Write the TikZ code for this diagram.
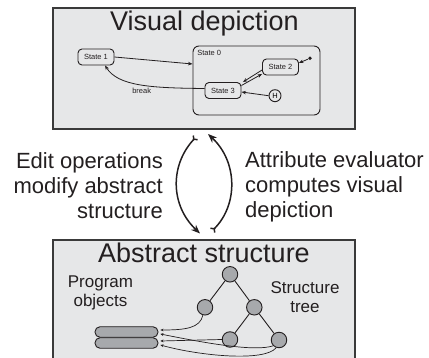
\documentclass[tikz,border=0pt]{standalone}
\usepackage{fontspec}
\setmainfont{Liberation Sans}
\usetikzlibrary{arrows.meta}

\definecolor{panel}{HTML}{E6E7E8}
\definecolor{frame}{HTML}{3A3A3A}
\definecolor{ball}{HTML}{A7A9AC}
\definecolor{ink}{HTML}{231F20}

\tikzset{
  panelbox/.style={draw=frame, fill=panel, line width=2.2pt, minimum width=302, minimum height=121, inner sep=0},
  heading/.style={font=\fontsize{27}{32}\selectfont, text=ink, inner sep=0},
  sidetext/.style={font=\fontsize{22}{25}\selectfont, text=ink, inner sep=0},
  labeltext/.style={font=\fontsize{17}{19}\selectfont, text=ink, inner sep=0, align=center},
  smalltext/.style={font=\fontsize{7.5}{9}\selectfont, text=ink, inner sep=0},
  statebox/.style={draw=ink, line width=0.9pt, rounded corners=4pt, minimum width=36, minimum height=16,
                   font=\fontsize{7.5}{9}\selectfont, text=ink, inner sep=0},
  container/.style={draw=ink, line width=0.9pt, rounded corners=6pt, minimum width=127, minimum height=69, inner sep=0},
  histnode/.style={draw=ink, line width=0.9pt, circle, minimum size=12, inner sep=0, font=\fontsize{7.5}{9}\selectfont},
  treenode/.style={draw=ink, fill=ball, line width=0.9pt, circle, minimum size=15.5, inner sep=0},
  capsule/.style={draw=ink, fill=ball, line width=0.9pt, rounded corners=5pt, minimum width=63, minimum height=10.5, inner sep=0},
  arr/.style={draw=ink, line width=0.8pt, -{Stealth[length=4.5pt,width=3.5pt]}},
  sarr/.style={draw=ink, line width=0.7pt, -{Stealth[length=3pt,width=2.8pt]}},
  bigarc/.style={draw=ink, line width=1.5pt, {Straight Barb[reversed,length=2.5pt,width=6pt]}-{Stealth[length=9pt,width=7pt]}},
  edge/.style={draw=ink, line width=0.9pt}
}

\begin{document}
\begin{tikzpicture}[x=1pt, y=-1pt]
\useasboundingbox (0,0) rectangle (429,358);
\clip (0,0) rectangle (429,358);

% ---------- upper panel: visual depiction ----------
\node[panelbox] (vis) at (204,68.5) {};
\node[heading, anchor=base] (vistitle) at (204.5,31) {Visual depiction};

\node[container] (s0) at (256.5,80.5) {};
\node[smalltext, anchor=north west] (s0lbl) at ([xshift=4.5pt,yshift=-4.5pt]s0.north west) {State 0};

\node[statebox] (s1) at (96,57) {State 1};
\node[statebox] (s2) at (280.5,67) {State 2};
\node[statebox] (s3) at (223,90.5) {State 3};
\node[histnode] (hist) at (275,95.7) {H};
\node[circle, fill=ink, inner sep=0, minimum size=3.8] (dot) at (310,58.3) {};

\draw[arr] (s1.east) -- ([yshift=16.5pt]s0.west);
\draw[arr] ([yshift=2pt]s3.west) .. controls (150,88) and (118,86) .. ([xshift=9pt]s1.south);
\node[smalltext] (brk) at (141.7,91) {break};
\draw[arr] ([yshift=-3pt]s2.west) -- ([xshift=1.5pt]s3.north east);
\draw[arr] ([yshift=5pt]s3.east) -- ([yshift=1.5pt]s2.south west);
\draw[arr] (hist.west) -- ([yshift=-1.5pt]s3.east);
\draw[arr] (dot) -- ([yshift=4pt]s2.east);

% ---------- round trip between the panels ----------
\coordinate (ltop) at (196,137);
\coordinate (lbot) at (200,233.5);
\coordinate (rbot) at (212,231);
\coordinate (rtop) at (208,134);
\draw[bigarc] (ltop) .. controls (170,165) and (170,205) .. (lbot);
\draw[bigarc] (rbot) .. controls (238,205) and (238,162) .. (rtop);

\node[sidetext, align=right, anchor=east] (edit) at (163,185.2)
  {Edit operations\\modify abstract\\structure};
\node[sidetext, align=left, anchor=west] (eval) at (245,187.2)
  {Attribute evaluator\\computes visual\\depiction};

% ---------- lower panel: abstract structure ----------
\node[panelbox, minimum height=140] (abs) at (204,310) {};
\node[heading, anchor=base] (abstitle) at (204,263) {Abstract structure};

\node[labeltext] (prog) at (100.5,293) {Program\\objects};
\node[labeltext] (stree) at (305,297.3) {Structure\\tree};

\node[treenode] (root) at (230,274.3) {};
\node[treenode] (tl) at (205,307.3) {};
\node[treenode] (tr) at (254.3,307.3) {};
\node[treenode] (trl) at (230,339.5) {};
\node[treenode] (trr) at (279,340) {};

\draw[edge] (root) -- (tl);
\draw[edge] (root) -- (tr);
\draw[edge] (tr) -- (trl);
\draw[edge] (tr) -- (trr);

\node[capsule] (po1) at (126.5,332) {};
\node[capsule] (po2) at (126.5,343) {};

\draw[sarr] (tl.255) .. controls (200,328) and (186,330) .. ([xshift=2pt,yshift=2pt]po1.east);
\draw[sarr] (trl.west) -- ([xshift=2pt,yshift=2pt]po2.east);
\draw[sarr] (trr.225) .. controls (255,352) and (205,343) .. ([xshift=2pt,yshift=-2pt]po1.east);
\draw[sarr] (trr.250) .. controls (265,362) and (200,356) .. ([xshift=2pt,yshift=-2pt]po2.east);
\end{tikzpicture}
\end{document}
